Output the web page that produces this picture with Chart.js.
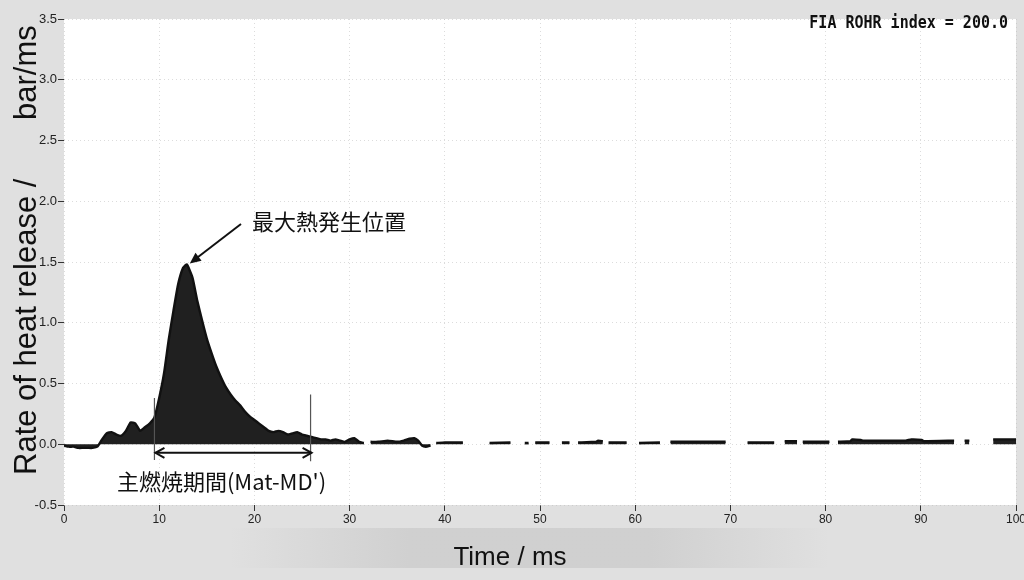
<!DOCTYPE html>
<html>
<head>
<meta charset="utf-8">
<script src="https://cdn.jsdelivr.net/npm/chart.js@4.4.1/dist/chart.umd.min.js"></script>
<style>
  html, body { margin: 0; padding: 0; background: #e2e2e2; }
  #wrap { width: 1024px; height: 580px; position: relative; }
</style>
</head>
<body>
<div id="wrap"><canvas id="c"></canvas></div>
<script>
// ---- data ----
const timeMs = [
  0, 0.5, 1, 1.5, 2, 2.5, 3, 3.5, 4, 4.5, 5, 5.5, 6, 6.5, 7, 7.5, 8, 8.5, 9, 9.5,
  10, 10.5, 11, 11.5, 12, 12.5, 12.9, 13.5, 14, 14.5, 15, 15.5, 16, 16.5, 17, 17.5,
  18, 18.5, 19, 19.5, 20, 20.5, 21, 21.5, 22, 22.5, 23, 23.5, 24, 24.5, 25, 25.5,
  26, 26.5, 27, 27.5, 28, 28.5, 29, 29.5, 30, 30.5, 31, 31.5, 31.8,
  32.2, 33, 34, 35, 35.7, 36.3, 36.8, 37.2, 37.6, 38, 38.5, 38.8,
  39.1, 40, 41, 41.9, 43,
  44.7, 46.9, 47.5,
  48.4, 48.8, 49.1,
  49.5, 51, 51.6,
  52.3, 53.1, 53.5,
  54, 55.9, 56.1, 56.6, 56.9,
  57.2, 59.1, 59.7,
  60.4, 62.6, 63.1,
  63.7, 67.1, 67.3, 69.5, 70.5,
  71.8, 74.6, 75.2,
  75.7, 77, 77.3,
  77.6, 80.4, 80.9,
  81.3, 82.6, 82.8, 83.7, 83.9, 88.4, 89, 90.1, 90.3, 93.5, 94,
  94.6, 95.1, 96,
  97.6, 100
];
const rohr = [
  -0.01, -0.02, -0.02, -0.03, -0.03, -0.03, -0.03, -0.02, 0.04, 0.09, 0.10, 0.08, 0.07, 0.11, 0.18, 0.17, 0.11, 0.14, 0.17, 0.22,
  0.38, 0.58, 0.86, 1.10, 1.32, 1.45, 1.48, 1.37, 1.18, 1.02, 0.87, 0.75, 0.64, 0.55, 0.47, 0.41,
  0.36, 0.32, 0.27, 0.23, 0.20, 0.17, 0.14, 0.11, 0.10, 0.11, 0.10, 0.08, 0.09, 0.10, 0.08, 0.07,
  0.06, 0.05, 0.04, 0.04, 0.03, 0.04, 0.03, 0.02, 0.04, 0.05, 0.02, 0.01, null,
  0.02, 0.02, 0.03, 0.02, 0.03, 0.045, 0.05, 0.03, -0.01, -0.02, -0.01, null,
  0.01, 0.015, 0.015, 0.015, null,
  0.01, 0.015, null,
  0.01, 0.01, null,
  0.015, 0.015, null,
  0.015, 0.015, null,
  0.015, 0.02, 0.03, 0.025, null,
  0.015, 0.015, null,
  0.01, 0.015, null,
  0.02, 0.02, 0.02, 0.02, null,
  0.015, 0.015, null,
  0.025, 0.025, null,
  0.02, 0.02, null,
  0.02, 0.025, 0.04, 0.035, 0.03, 0.03, 0.04, 0.035, 0.025, 0.03, null,
  0.03, 0.03, null,
  0.04, 0.04
];
const yTicks = [-0.5, 0.0, 0.5, 1.0, 1.5, 2.0, 2.5, 3.0, 3.5];
const xTicks = [0, 10, 20, 30, 40, 50, 60, 70, 80, 90, 100];

const yTitleA = "Rate of heat release /";
const yTitleB = "bar/ms";
const xTitle = "Time / ms";
const infoLabel = "FIA ROHR index = 200.0";
const peakLabel = "最大熱発生位置";
const periodLabel = "主燃焼期間(Mat-MD')";
const peakTime = 12.9, peakValue = 1.48;
const periodStart = 9.5, periodEnd = 25.9;

const points = timeMs.map((t, i) => ({ x: t, y: rohr[i] }));

function arrowHead(ctx, x, y, ang, len, wid, filled) {
  ctx.beginPath();
  ctx.moveTo(x - len * Math.cos(ang) + wid * Math.sin(ang), y - len * Math.sin(ang) - wid * Math.cos(ang));
  ctx.lineTo(x, y);
  ctx.lineTo(x - len * Math.cos(ang) - wid * Math.sin(ang), y - len * Math.sin(ang) + wid * Math.cos(ang));
  if (filled) { ctx.closePath(); ctx.fill(); } else { ctx.stroke(); }
}

const decor = {
  id: 'decor',
  beforeDraw(chart) {
    const { ctx, chartArea: a, width, height } = chart;
    ctx.save();
    ctx.fillStyle = '#e0e0e0';
    ctx.fillRect(0, 0, width, height);
    // soft darker scan band under the x axis
    const g = ctx.createLinearGradient(230, 0, 830, 0);
    g.addColorStop(0, 'rgba(160,160,160,0)');
    g.addColorStop(0.3, 'rgba(160,160,160,0.25)');
    g.addColorStop(0.7, 'rgba(160,160,160,0.25)');
    g.addColorStop(1, 'rgba(160,160,160,0)');
    ctx.fillStyle = g;
    ctx.fillRect(230, 528, 600, 40);
    ctx.fillStyle = '#ffffff';
    ctx.fillRect(a.left, a.top, a.right - a.left, a.bottom - a.top);
    ctx.restore();
  },
  afterDatasetsDraw(chart) {
    const { ctx, scales: { x, y } } = chart;
    ctx.save();
    // period markers
    const xs = x.getPixelForValue(periodStart), xe = x.getPixelForValue(periodEnd);
    ctx.strokeStyle = '#555';
    ctx.lineWidth = 1.2;
    ctx.beginPath();
    ctx.moveTo(xs, y.getPixelForValue(0.38)); ctx.lineTo(xs, y.getPixelForValue(-0.13));
    ctx.moveTo(xe, y.getPixelForValue(0.41)); ctx.lineTo(xe, y.getPixelForValue(-0.14));
    ctx.stroke();
    // double arrow
    const ya = y.getPixelForValue(-0.07);
    ctx.strokeStyle = '#111';
    ctx.lineWidth = 2;
    ctx.beginPath();
    ctx.moveTo(xs + 1, ya); ctx.lineTo(xe + 1, ya);
    ctx.stroke();
    arrowHead(ctx, xs + 1, ya, Math.PI, 9, 5, false);
    arrowHead(ctx, xe + 1, ya, 0, 9, 5, false);
    // period label
    ctx.fillStyle = '#111';
    ctx.font = '22px "Noto Sans CJK JP", sans-serif';
    ctx.textAlign = 'center';
    ctx.textBaseline = 'middle';
    ctx.fillText(periodLabel, (xs + xe) / 2 - 11, 482);
    // peak arrow
    const px = x.getPixelForValue(peakTime) + 3, py = y.getPixelForValue(peakValue) - 1;
    const sx = 241, sy = 224;
    ctx.lineWidth = 2;
    ctx.beginPath(); ctx.moveTo(sx, sy); ctx.lineTo(px + 5, py - 4); ctx.stroke();
    arrowHead(ctx, px, py, Math.atan2(py - sy, px - sx), 11, 5, true);
    ctx.textAlign = 'left';
    ctx.fillText(peakLabel, 252, 222);
    // info label
    ctx.font = 'bold 15px "DejaVu Sans Mono", monospace';
    ctx.textAlign = 'right';
    ctx.save();
    ctx.translate(1008, 23);
    ctx.scale(1, 1.2);
    ctx.fillText(infoLabel, 0, 0);
    ctx.restore();
    // axis titles
    ctx.font = '31px "Liberation Sans", Arial, sans-serif';
    ctx.textAlign = 'left';
    ctx.textBaseline = 'alphabetic';
    ctx.save();
    ctx.translate(36, 475);
    ctx.rotate(-Math.PI / 2);
    ctx.fillText(yTitleA, 0, 0);
    ctx.restore();
    ctx.save();
    ctx.translate(36, 120);
    ctx.rotate(-Math.PI / 2);
    ctx.fillText(yTitleB, 0, 0);
    ctx.restore();
    ctx.font = '26px "Liberation Sans", Arial, sans-serif';
    ctx.textAlign = 'center';
    ctx.textBaseline = 'middle';
    ctx.fillText(xTitle, 510, 558);
    ctx.restore();
  }
};

new Chart(document.getElementById('c'), {
  type: 'line',
  data: {
    datasets: [{
      data: points,
      borderColor: '#111',
      backgroundColor: '#202020',
      borderWidth: 2.4,
      pointRadius: 0,
      tension: 0.15,
      fill: 'origin',
      spanGaps: false
    }]
  },
  options: {
    responsive: true,
    maintainAspectRatio: false,
    animation: false,
    layout: { padding: { top: 19, right: 8, left: 0, bottom: 0 } },
    plugins: { legend: { display: false }, tooltip: { enabled: false } },
    scales: {
      x: {
        type: 'linear', min: 0, max: 100,
        afterBuildTicks: s => { s.ticks = xTicks.map(v => ({ value: v })); },
        afterFit: s => { s.height = 75; s.paddingLeft = 0; s.paddingRight = 0; },
        ticks: {
          color: '#222', padding: 1, maxRotation: 0,
          font: { family: '"Liberation Sans Narrow", "Liberation Sans", sans-serif', size: 12 },
          callback: v => String(v)
        },
        grid: { color: 'rgba(185,185,185,0.5)', tickColor: '#333', tickLength: 6, lineWidth: 1 },
        border: { display: false, dash: [1, 3] }
      },
      y: {
        min: -0.5, max: 3.5,
        afterBuildTicks: s => { s.ticks = yTicks.map(v => ({ value: v })); },
        afterFit: s => { s.width = 64; },
        ticks: {
          color: '#222', padding: 1,
          font: { family: '"Liberation Sans Narrow", "Liberation Sans", sans-serif', size: 13 },
          callback: v => Number(v).toFixed(1)
        },
        grid: { color: 'rgba(185,185,185,0.5)', tickColor: '#333', tickLength: 6, lineWidth: 1 },
        border: { display: false, dash: [1, 3] }
      }
    }
  },
  plugins: [decor]
});
</script>
</body>
</html>
